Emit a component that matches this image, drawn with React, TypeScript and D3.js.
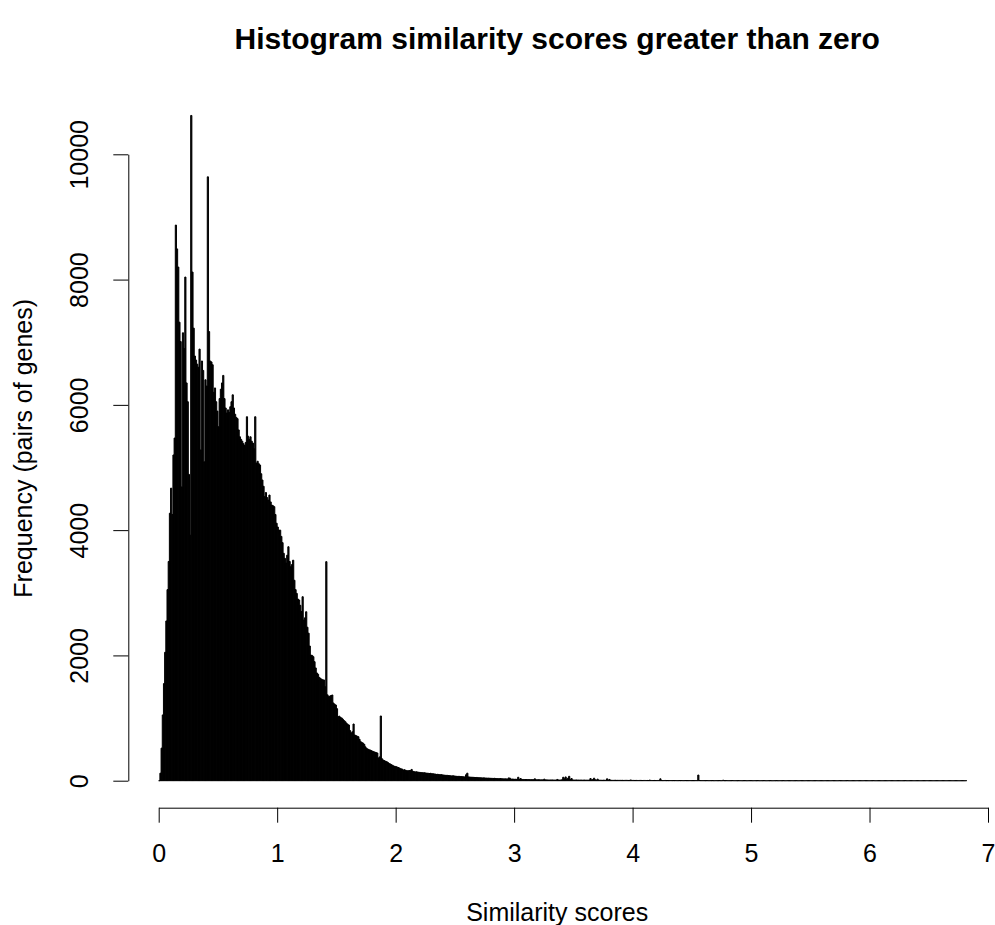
import React, { useEffect, useRef } from "react";
import * as d3 from "d3";

// Histogram of similarity scores (> 0), bins of width 0.01.
const BIN_WIDTH = 0.01;

// counts for scores 0.00 – 0.99
const countsA = [
  0, 120, 520, 1050, 1550, 2050, 2550, 3050, 3500, 4270,
  4670, 4250, 5200, 5470, 8870, 8490, 8200, 7320, 7010, 4690,
  7150, 6900, 8040, 6350, 6050, 4890, 3920, 10620, 8120, 7225,
  6780, 6715, 6650, 6600, 6890, 5280, 6700, 6550, 5090, 6400,
  6300, 9640, 7170, 6700, 6685, 6640, 6200, 6270, 6050, 5900,
  5650, 6100, 6250, 6350, 6470, 6100, 5950, 5870, 5920, 5880,
  5970, 6050, 6160, 5950, 5850, 5800, 5780, 5600, 5490, 5450,
  5420, 5380, 5350, 5400, 5810, 5500, 5450, 5490, 5420, 5390,
  5300, 5810, 5070, 5100, 5060, 5040, 4900, 4800, 4700, 4535,
  4600, 4520, 4480, 4560, 4450, 4400, 4390, 4375, 4250, 4110,
];

// counts for scores 1.00 – 1.99
const countsB = [
  4050, 4000, 4000, 3900, 3800, 3630, 3550, 3475, 3600, 3735,
  3500, 3415, 3450, 3520, 3200, 3050, 2990, 2900, 2885, 2800,
  2700, 2937, 2565, 2600, 2697, 2450, 2355, 2150, 2005, 2000,
  1980, 1900, 1800, 1720, 1700, 1650, 1634, 1620, 1610, 1608,
  1500, 3497, 1370, 1341, 1350, 1360, 1368, 1240, 1220, 1208,
  1150, 1022, 1030, 1010, 1000, 980, 960, 942, 920, 900,
  889, 800, 761, 780, 905, 730, 720, 710, 702, 660,
  623, 610, 600, 580, 540, 517, 505, 495, 490, 480,
  470, 463, 455, 450, 442, 362, 380, 1033, 350, 330,
  320, 310, 303, 290, 275, 267, 255, 245, 234, 228,
];

// counts for scores 2.00 – 2.99
const countsC = [
  224, 215, 210, 197, 190, 185, 170, 175, 165, 160,
  158, 162, 160, 180, 150, 145, 140, 142, 138, 135,
  132, 130, 128, 125, 127, 122, 120, 118, 115, 118,
  110, 112, 108, 105, 100, 102, 98, 95, 97, 92,
  90, 88, 85, 86, 82, 80, 78, 76, 80, 75,
  72, 70, 68, 70, 66, 65, 63, 62, 60, 95,
  120, 60, 58, 56, 55, 54, 52, 50, 52, 49,
  48, 46, 45, 44, 46, 43, 42, 40, 41, 39,
  38, 37, 36, 38, 35, 34, 33, 32, 34, 31,
  30, 29, 30, 28, 27, 45, 40, 25, 26, 24,
];

// counts for scores 3.00 – 4.99
const countsD = [
  22, 24, 20, 55, 21, 35, 19, 20, 18, 19,
  18, 17, 19, 16, 17, 15, 16, 30, 15, 14,
  15, 14, 13, 14, 13, 25, 12, 13, 12, 11,
  12, 11, 12, 10, 11, 10, 20, 11, 10, 12,
  15, 55, 30, 60, 25, 40, 70, 20, 35, 12,
  11, 10, 12, 9, 10, 9, 11, 8, 9, 10,
  8, 9, 8, 10, 35, 12, 20, 40, 15, 8,
  25, 7, 8, 7, 6, 8, 7, 6, 30, 8,
  20, 7, 6, 5, 6, 7, 5, 6, 5, 6,
  5, 6, 4, 5, 6, 5, 4, 5, 12, 4,
  5, 4, 4, 5, 3, 4, 5, 4, 3, 4,
  4, 3, 4, 3, 10, 4, 3, 3, 4, 3,
  3, 4, 3, 30, 3, 2, 3, 4, 2, 3,
  2, 3, 3, 2, 3, 2, 3, 2, 2, 3,
  2, 3, 2, 2, 3, 2, 2, 2, 3, 2,
  2, 2, 2, 3, 2, 90, 3, 2, 2, 2,
  2, 1, 2, 2, 1, 2, 1, 2, 1, 1,
  2, 1, 1, 2, 1, 1, 8, 1, 1, 2,
  1, 1, 1, 1, 2, 1, 1, 1, 0, 1,
  1, 1, 0, 1, 1, 1, 0, 1, 1, 1,
];

// counts for scores 5.00 – 6.81
const countsE = [
  1, 0, 1, 1, 0, 1, 1, 0, 1, 0,
  1, 1, 0, 0, 1, 0, 1, 0, 0, 1,
  0, 1, 0, 0, 1, 0, 0, 1, 0, 0,
  1, 0, 0, 0, 1, 0, 0, 0, 1, 0,
  0, 1, 0, 0, 0, 0, 1, 0, 0, 0,
  1, 0, 0, 0, 0, 1, 0, 0, 0, 0,
  0, 0, 1, 0, 0, 0, 0, 0, 1, 0,
  0, 0, 0, 0, 1, 0, 0, 0, 0, 0,
  0, 1, 0, 0, 0, 0, 0, 0, 0, 1,
  0, 0, 0, 0, 0, 1, 0, 0, 0, 0,
  0, 0, 0, 1, 0, 0, 0, 0, 0, 0,
  0, 0, 0, 0, 0, 0, 1, 0, 0, 0,
  0, 0, 0, 0, 0, 0, 0, 0, 0, 0,
  1, 0, 0, 0, 0, 0, 0, 0, 0, 0,
  0, 0, 0, 0, 0, 0, 0, 0, 1, 0,
  0, 0, 0, 0, 0, 0, 0, 0, 0, 0,
  0, 0, 0, 0, 0, 0, 0, 0, 0, 0,
  0, 0, 0, 0, 0, 0, 0, 0, 0, 0,
  0, 1,
];

const xTicks = [0, 1, 2, 3, 4, 5, 6, 7];
const yTicks = [0, 2000, 4000, 6000, 8000, 10000];

const TITLE = "Histogram similarity scores greater than zero";
const X_LABEL = "Similarity scores";
const Y_LABEL = "Frequency (pairs of genes)";

const WIDTH = 995;
const HEIGHT = 925;
const FONT = "'Liberation Sans', Arial, Helvetica, sans-serif";
const FONT_SIZE = 25;

// plot frame
const plotLeft = 128.3;
const plotBottom = 807.7;
const plotTop = 88.9;
const plotRight = 986;
const TICK_LEN = 15;

const counts = [...countsA, ...countsB, ...countsC, ...countsD, ...countsE];
const bins = counts.map((c, i) => ({
  x0: i * BIN_WIDTH,
  x1: (i + 1) * BIN_WIDTH,
  count: c,
}));

const x = d3.scaleLinear().domain([0, 7]).range([158.7, 988]);
const y = d3.scaleLinear().domain([0, 10000]).range([780.7, 154.3]);

export default function App() {
  const xAxisRef = useRef<SVGGElement>(null);
  const yAxisRef = useRef<SVGGElement>(null);

  useEffect(() => {
    if (xAxisRef.current) {
      const g = d3.select(xAxisRef.current);
      g.selectAll("*").remove();
      g.call(
        d3
          .axisBottom(x)
          .tickValues(xTicks)
          .tickFormat(d3.format("d"))
          .tickSizeInner(TICK_LEN)
          .tickSizeOuter(0)
      );
      g.select(".domain").attr("stroke", "#000").attr("stroke-width", 1);
      g.selectAll(".tick line").attr("stroke", "#000").attr("stroke-width", 1);
      g.selectAll(".tick text")
        .attr("fill", "#000")
        .attr("y", 54)
        .attr("dy", 0)
        .style("font-family", FONT)
        .style("font-size", `${FONT_SIZE}px`);
    }
    if (yAxisRef.current) {
      const g = d3.select(yAxisRef.current);
      g.selectAll("*").remove();
      g.call(
        d3
          .axisLeft(y)
          .tickValues(yTicks)
          .tickFormat(d3.format("d"))
          .tickSizeInner(TICK_LEN)
          .tickSizeOuter(0)
      );
      g.select(".domain").attr("stroke", "#000").attr("stroke-width", 1);
      g.selectAll(".tick line").attr("stroke", "#000").attr("stroke-width", 1);
      g.selectAll(".tick text")
        .attr("fill", "#000")
        .attr("transform", "rotate(-90)")
        .attr("x", 0)
        .attr("y", -40)
        .attr("dy", 0)
        .attr("text-anchor", "middle")
        .style("font-family", FONT)
        .style("font-size", `${FONT_SIZE}px`);
    }
  }, []);

  const base = y(0);

  return (
    <svg
      width={WIDTH}
      height={HEIGHT}
      style={{ position: "absolute", left: 0, top: 0, background: "#fff" }}
    >
      <rect width={WIDTH} height={HEIGHT} fill="#fff" />
      <text
        x={(plotLeft + plotRight) / 2}
        y={49}
        textAnchor="middle"
        fontFamily={FONT}
        fontWeight="bold"
        fontSize={30}
        fill="#000"
      >
        {TITLE}
      </text>

      <g>
        {bins.map((b, i) => (
          <path
            key={i}
            d={`M${x(b.x0)},${base}V${y(b.count)}H${x(b.x1)}V${base}Z`}
            fill="#000"
            stroke="#000"
            strokeWidth={1}
          />
        ))}
      </g>

      <g ref={xAxisRef} transform={`translate(0,${plotBottom})`} />
      <g ref={yAxisRef} transform={`translate(${plotLeft},0)`} />

      <text
        x={(plotLeft + plotRight) / 2}
        y={921}
        textAnchor="middle"
        fontFamily={FONT}
        fontSize={FONT_SIZE}
        fill="#000"
      >
        {X_LABEL}
      </text>
      <text
        transform={`translate(32.3,${(plotTop + plotBottom) / 2}) rotate(-90)`}
        textAnchor="middle"
        fontFamily={FONT}
        fontSize={FONT_SIZE}
        fill="#000"
      >
        {Y_LABEL}
      </text>
    </svg>
  );
}
